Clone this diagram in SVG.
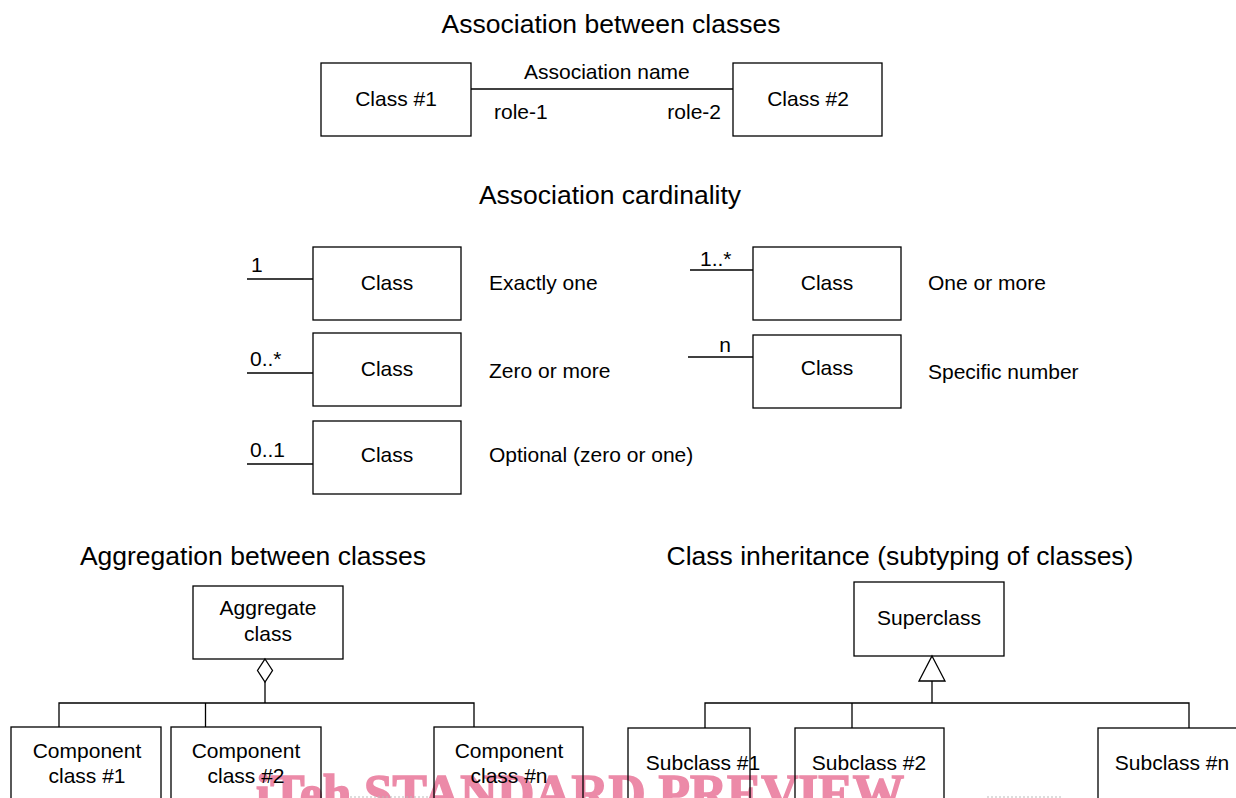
<svg xmlns="http://www.w3.org/2000/svg" width="1236" height="798" viewBox="0 0 1236 798">
<style>
  text { font-family: "Liberation Sans", Arial, sans-serif; fill: #000; }
  .title { font-size: 26.5px; text-anchor: middle; }
  .lbl { font-size: 21px; }
  .c { text-anchor: middle; }
  .e { text-anchor: end; }
  .box { fill: none; stroke: #000; stroke-width: 1.3; }
  .ln { fill: none; stroke: #000; stroke-width: 1.3; }
  .wm { font-family: "Liberation Serif", "Times New Roman", serif; font-weight: bold; font-size: 52px; fill: #ec8aa8; stroke: #ec8aa8; stroke-width: 1.6; }
  .dot { stroke: #bbb; stroke-width: 1; stroke-dasharray: 2 2; }
</style>

<!-- watermark (drawn behind) -->
<text class="wm" x="256" y="811" textLength="648" lengthAdjust="spacingAndGlyphs">iTeh STANDARD PREVIEW</text>
<line class="dot" x1="350" y1="797" x2="430" y2="797"/>
<line class="dot" x1="987" y1="797" x2="1062" y2="797"/>

<!-- titles -->
<text class="title" x="611" y="33">Association between classes</text>
<text class="title" x="610" y="204">Association cardinality</text>
<text class="title" x="253" y="565">Aggregation between classes</text>
<text class="title" x="900" y="565">Class inheritance (subtyping of classes)</text>

<!-- connectors -->
<g id="connectors">
  <line class="ln" x1="471" y1="89" x2="733" y2="89"/>
  <line class="ln" x1="247" y1="279" x2="313" y2="279"/>
  <line class="ln" x1="247" y1="373" x2="313" y2="373"/>
  <line class="ln" x1="247" y1="464" x2="313" y2="464"/>
  <line class="ln" x1="690" y1="270" x2="753" y2="270"/>
  <line class="ln" x1="688" y1="357" x2="753" y2="357"/>
  <!-- aggregation -->
  <polygon class="ln" fill="#fff" points="265,659 272.5,670.5 265,682 257.5,670.5"/>
  <polyline class="ln" points="265,682 265,703"/>
  <polyline class="ln" points="59,727 59,703 474,703 474,727"/>
  <line class="ln" x1="205.5" y1="703" x2="205.5" y2="727"/>
  <!-- inheritance -->
  <polygon class="ln" fill="#fff" points="932,656 945,681 919,681"/>
  <line class="ln" x1="932" y1="681" x2="932" y2="703"/>
  <polyline class="ln" points="705,728 705,703 1189,703 1189,728"/>
  <line class="ln" x1="852" y1="703" x2="852" y2="728"/>
  <!-- connector labels -->
  <text class="lbl" x="524" y="79">Association name</text>
  <text class="lbl" x="494" y="119">role-1</text>
  <text class="lbl e" x="721" y="119">role-2</text>
  <text class="lbl" x="251" y="272">1</text>
  <text class="lbl" x="250" y="366">0..*</text>
  <text class="lbl" x="250" y="457">0..1</text>
  <text class="lbl" x="700" y="266">1..*</text>
  <text class="lbl c" x="725" y="352">n</text>
</g>

<g id="class1"><rect class="box" x="321" y="63" width="150" height="73"/><text class="lbl c" x="396" y="106">Class #1</text></g>
<g id="class2"><rect class="box" x="733" y="63" width="149" height="73"/><text class="lbl c" x="808" y="106">Class #2</text></g>

<g id="card-one"><rect class="box" x="313" y="247" width="148" height="73"/><text class="lbl c" x="387" y="290">Class</text><text class="lbl" x="489" y="290">Exactly one</text></g>
<g id="card-zero-more"><rect class="box" x="313" y="333" width="148" height="73"/><text class="lbl c" x="387" y="376">Class</text><text class="lbl" x="489" y="378">Zero or more</text></g>
<g id="card-optional"><rect class="box" x="313" y="421" width="148" height="73"/><text class="lbl c" x="387" y="462">Class</text><text class="lbl" x="489" y="462">Optional (zero or one)</text></g>
<g id="card-one-more"><rect class="box" x="753" y="247" width="148" height="73"/><text class="lbl c" x="827" y="290">Class</text><text class="lbl" x="928" y="290">One or more</text></g>
<g id="card-specific"><rect class="box" x="753" y="335" width="148" height="73"/><text class="lbl c" x="827" y="375">Class</text><text class="lbl" x="928" y="379">Specific number</text></g>

<g id="aggregate"><rect class="box" x="193" y="586" width="150" height="73"/><text class="lbl c" x="268" y="615">Aggregate</text><text class="lbl c" x="268" y="641">class</text></g>
<g id="component1"><rect class="box" x="11" y="727" width="150" height="80"/><text class="lbl c" x="87" y="758">Component</text><text class="lbl c" x="87" y="783">class #1</text></g>
<g id="component2"><rect class="box" x="171" y="727" width="150" height="80"/><text class="lbl c" x="246" y="758">Component</text><text class="lbl c" x="246" y="783">class #2</text></g>
<g id="componentn"><rect class="box" x="434" y="727" width="149" height="80"/><text class="lbl c" x="509" y="758">Component</text><text class="lbl c" x="509" y="783">class #n</text></g>

<g id="superclass"><rect class="box" x="854" y="582" width="150" height="74"/><text class="lbl c" x="929" y="625">Superclass</text></g>
<g id="subclass1"><rect class="box" x="628" y="728" width="122" height="80"/><text class="lbl c" x="703" y="770">Subclass #1</text></g>
<g id="subclass2"><rect class="box" x="795" y="728" width="149" height="80"/><text class="lbl c" x="869" y="770">Subclass #2</text></g>
<g id="subclassn"><rect class="box" x="1098" y="728" width="150" height="80"/><text class="lbl c" x="1172" y="770">Subclass #n</text></g>
</svg>
